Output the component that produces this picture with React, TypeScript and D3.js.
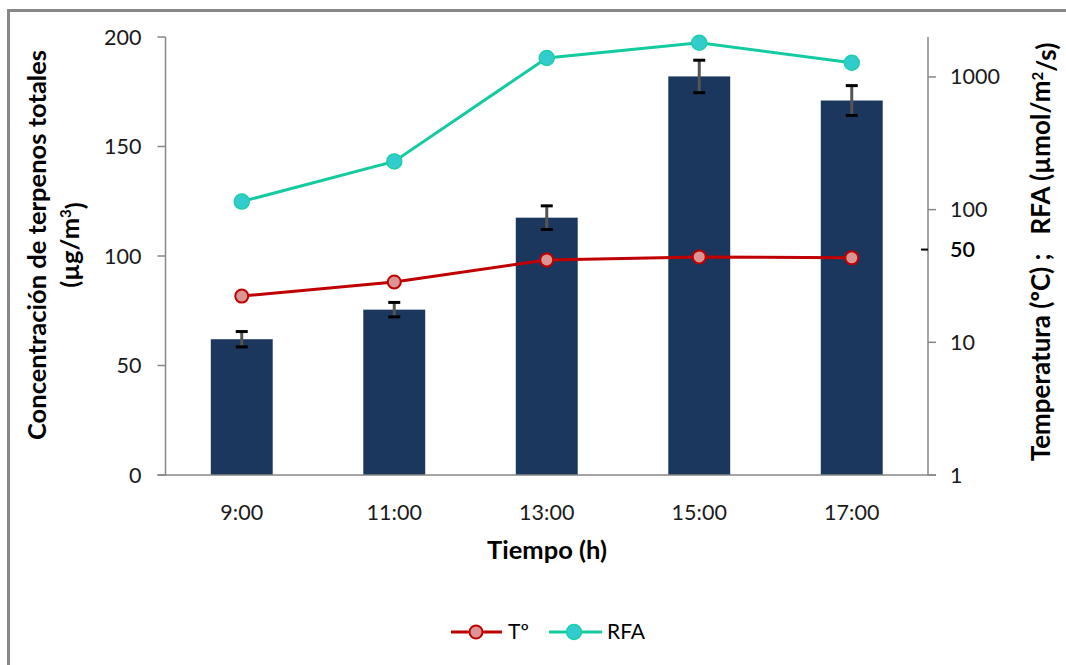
import React from 'react';
import * as d3 from 'd3';

// chart values
const hours = ['9:00', '11:00', '13:00', '15:00', '17:00'];
const terpenos = [62, 75.5, 117.5, 182, 171];
const terpenosErr = [3.5, 3.3, 5.4, 7.4, 6.8];
const temperatura = [22.3, 28.5, 41.8, 44, 43.3];
const rfa = [115, 231, 1390, 1810, 1280];
const leftTicks = [0, 50, 100, 150, 200];
const rightTicks = [1, 10, 100, 1000];
const markTicks = [50];

const W = 1066;
const H = 665;
const m = { left: 165.5, right: 928, top: 37, bottom: 475 };
const font = 'Lato, "Open Sans", sans-serif';
const axisGrey = '#878787';

export default function App() {
  const x = d3.scaleBand<string>()
    .domain(hours)
    .range([m.left, m.right])
    .paddingInner(0.594)
    .paddingOuter(0.297);
  const yL = d3.scaleLinear().domain([0, 200]).range([m.bottom, m.top]);
  const yR = d3.scaleLog().domain([1, 2000]).range([m.bottom, m.top]);
  const cx = (h: string) => (x(h) ?? 0) + x.bandwidth() / 2;

  const seriesLine = d3.line<number>()
    .x((_, i) => cx(hours[i]))
    .y(d => yR(d));

  return (
    <svg width={W} height={H} style={{ position: 'absolute', left: 0, top: 0, background: '#fff' }}>
      {/* outer frame, cut off right and bottom */}
      <rect x={8.5} y={10.5} width={W + 20} height={H + 20} fill="#fff" stroke={axisGrey} strokeWidth={3} />

      {/* bars */}
      {hours.map((h, i) => (
        <rect key={h} x={x(h)} y={yL(terpenos[i])} width={x.bandwidth()}
          height={yL(0) - yL(terpenos[i])} fill="#1B375E" />
      ))}

      {/* error bars */}
      {hours.map((h, i) => {
        const top = yL(terpenos[i] + terpenosErr[i]);
        const bot = yL(terpenos[i] - terpenosErr[i]);
        return (
          <g key={'e' + h} stroke="#000" strokeWidth={3}>
            <line x1={cx(h)} x2={cx(h)} y1={top} y2={bot} stroke="#555" />
            <line x1={cx(h) - 6} x2={cx(h) + 6} y1={top} y2={top} />
            <line x1={cx(h) - 6} x2={cx(h) + 6} y1={bot} y2={bot} />
          </g>
        );
      })}

      {/* axes */}
      <g stroke={axisGrey} strokeWidth={1.5} fill="none">
        <line x1={m.left} x2={m.left} y1={m.top} y2={m.bottom} />
        <line x1={m.right} x2={m.right} y1={m.top} y2={m.bottom} />
        <line x1={m.left - 8} x2={m.right + 8} y1={m.bottom} y2={m.bottom} />
        {leftTicks.map(t => (
          <line key={'lt' + t} x1={m.left - 8} x2={m.left} y1={yL(t)} y2={yL(t)} />
        ))}
        {rightTicks.map(t => (
          <line key={'rt' + t} x1={m.right} x2={m.right + 8} y1={yR(t)} y2={yR(t)} />
        ))}
      </g>
      {markTicks.map(t => (
        <line key={'mt' + t} x1={m.right - 7} x2={m.right} y1={yR(t)} y2={yR(t)} stroke="#000" strokeWidth={2} />
      ))}

      <g fontFamily={font} fontSize={21.5} fill="#1a1a1a">
        {leftTicks.map(t => (
          <text key={'ll' + t} x={m.left - 24} y={yL(t)} dy="0.35em" textAnchor="end">{t}</text>
        ))}
        {rightTicks.map(t => (
          <text key={'rl' + t} x={m.right + 22} y={yR(t)} dy="0.35em">{t}</text>
        ))}
        {markTicks.map(t => (
          <text key={'ml' + t} x={m.right + 22} y={yR(t)} dy="0.35em" fill="#000" fontWeight={600}>{t}</text>
        ))}
        {hours.map(h => (
          <text key={'xl' + h} x={cx(h)} y={m.bottom + 37} dy="0.35em" textAnchor="middle">{h}</text>
        ))}
      </g>

      {/* axis titles */}
      <g fontFamily={font} fontSize={25.5} fontWeight={700} fill="#000" textAnchor="middle">
        <text x={547} y={550} dy="0.35em">Tiempo (h)</text>
        <text transform="translate(37,245) rotate(-90)" dy="0.35em">Concentración de terpenos totales</text>
        <text transform="translate(70,245) rotate(-90)" dy="0.35em">
          (µg/m<tspan dy="-0.5em" fontSize={15}>3</tspan><tspan dy="0.5em">)</tspan>
        </text>
        <text transform="translate(1041,252) rotate(-90)" dy="0.35em" fontSize={26}>
          {'Temperatura (ºC)\u00A0;\u00A0\u00A0\u00A0RFA (µmol/m'}<tspan dy="-0.5em" fontSize={15}>2</tspan><tspan dy="0.5em">/s)</tspan>
        </text>
      </g>

      {/* RFA series */}
      <path d={seriesLine(rfa) ?? ''} fill="none" stroke="#14CBA0" strokeWidth={3} />
      {rfa.map((v, i) => (
        <circle key={'r' + i} cx={cx(hours[i])} cy={yR(v)} r={7.5} fill="#33CCCC" stroke="#1CCFA6" strokeWidth={1.5} />
      ))}

      {/* temperature series */}
      <path d={seriesLine(temperatura) ?? ''} fill="none" stroke="#C00000" strokeWidth={3} />
      {temperatura.map((v, i) => (
        <circle key={'t' + i} cx={cx(hours[i])} cy={yR(v)} r={6.5} fill="#DA9694" stroke="#C00000" strokeWidth={2} />
      ))}

      {/* legend */}
      <g fontFamily={font} fontSize={21} fill="#000">
        <line x1={451} x2={502} y1={632} y2={632} stroke="#C00000" strokeWidth={3} />
        <circle cx={476} cy={632} r={6.5} fill="#DA9694" stroke="#C00000" strokeWidth={2} />
        <text x={508} y={632} dy="0.35em">Tº</text>
        <line x1={549} x2={602} y1={632} y2={632} stroke="#14CBA0" strokeWidth={3} />
        <circle cx={574} cy={632} r={7.5} fill="#33CCCC" stroke="#1CCFA6" strokeWidth={1.5} />
        <text x={607} y={632} dy="0.35em">RFA</text>
      </g>
    </svg>
  );
}
